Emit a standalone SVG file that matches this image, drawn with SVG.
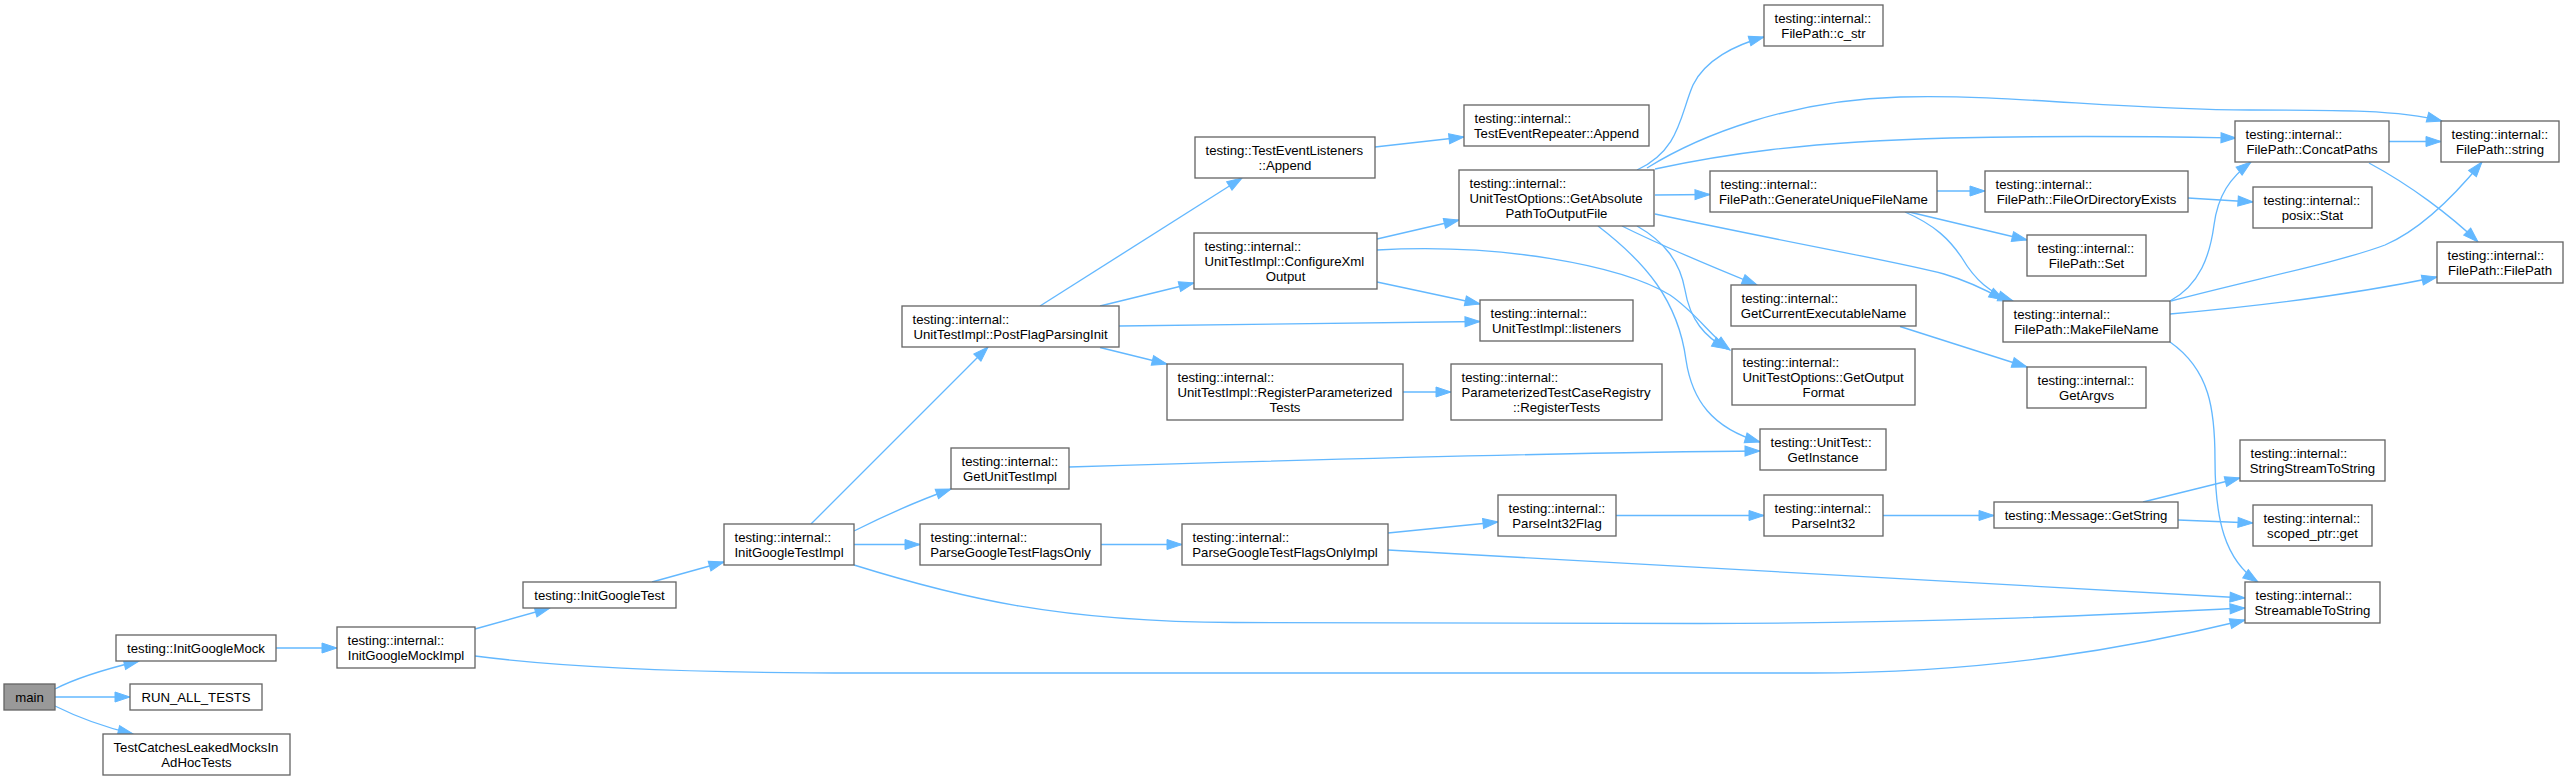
<svg xmlns="http://www.w3.org/2000/svg" width="2568" height="781" viewBox="0 0 2568 781">
<style>
.n rect{fill:#ffffff;stroke:#666666;stroke-width:1.33}
.n.root rect{fill:#999999}
text{font-family:"Liberation Sans",Arial,Helvetica,sans-serif;font-size:13.2px;fill:#000000}
.m{text-anchor:middle}
.e path{fill:none;stroke:#63b8ff;stroke-width:1.33;marker-end:url(#ah)}
</style>
<defs>
<marker id="ah" markerUnits="userSpaceOnUse" markerWidth="16" markerHeight="11" refX="15" refY="5" orient="auto" overflow="visible">
<path d="M0,0 L15,5 L0,10 z" fill="#63b8ff" stroke="#63b8ff" stroke-width="1"/>
</marker>
</defs>
<rect x="0" y="0" width="2568" height="781" fill="#ffffff"/>
<g id="edges" class="e">
<path d="M55,689 C 78,677 110,668 139,661"/>
<path d="M55,697 L130,697"/>
<path d="M55,706 C 75,716 100,726 133,734"/>
<path d="M276,648 L337,648"/>
<path d="M475,629 L550,608"/>
<path d="M475,656 C 560,667 680,673 860,673 L1811,673 C 1990,673 2130,648 2245,620"/>
<path d="M652,582 L724,562"/>
<path d="M811,524 L988,347"/>
<path d="M854,531 C 880,518 920,500 951,489"/>
<path d="M854,544.5 L920,544.5"/>
<path d="M854,565 C 960,598 1060,622 1234,622.5 L1700,623.5 C 1950,623 2100,615 2245,608"/>
<path d="M1040,306 L1242,178"/>
<path d="M1100,306 L1194,283"/>
<path d="M1119,326 L1480,321.5"/>
<path d="M1100,347.5 L1167,364"/>
<path d="M1375,147 L1464,137"/>
<path d="M1377,239 L1459,220"/>
<path d="M1377,250 C 1500,243 1620,265 1670,295 C 1695,312 1710,335 1730,350"/>
<path d="M1377,282 L1480,304"/>
<path d="M1403,392 L1451,392"/>
<path d="M1069,467 C 1300,460 1600,452 1760,451"/>
<path d="M1101,544.5 L1182,544.5"/>
<path d="M1388,533 L1498,522"/>
<path d="M1388,550 L2245,598"/>
<path d="M1616,515.5 L1764,515.5"/>
<path d="M1883,515.5 L1994,515.5"/>
<path d="M2143,502 L2240,478"/>
<path d="M2178,520 L2253,523"/>
<path d="M1637,170 C 1680,150 1680,115 1693,85 C 1705,60 1735,45 1764,37"/>
<path d="M1647,168 C 1700,135 1790,100 1900,97 C 2010,94 2120,110 2250,110 C 2340,110 2400,110 2442,121"/>
<path d="M1655,169 C 1720,155 1800,142 1950,138 C 2080,135 2180,137 2236,138"/>
<path d="M1655,195 L1710,194.5"/>
<path d="M1655,214 C 1800,245 1900,262 1944,274 C 1968,281 1988,291 2004,300"/>
<path d="M1622,226 C 1660,245 1720,270 1757,285"/>
<path d="M1637,226 C 1665,242 1680,262 1685,290 C 1690,320 1705,337 1727,349"/>
<path d="M1598,226 C 1645,262 1678,300 1686,360 C 1692,400 1712,428 1760,442"/>
<path d="M1937,191 L1985,191"/>
<path d="M1905,211 L2027,240"/>
<path d="M1905,212 C 1935,225 1950,240 1962,258 C 1975,280 1990,293 2013,301"/>
<path d="M2188,198 L2253,202"/>
<path d="M1900,326.5 L2027,367"/>
<path d="M2170,301 C 2200,285 2210,255 2214,225 C 2218,195 2230,178 2251,162"/>
<path d="M2171,301 C 2250,280 2340,262 2385,245 C 2420,230 2455,195 2482,162"/>
<path d="M2170,314 C 2250,307 2350,295 2437,277"/>
<path d="M2170,342 C 2210,370 2215,410 2215,460 C 2215,520 2225,560 2258,582"/>
<path d="M2389,141.5 L2441,141.5"/>
<path d="M2369,163 C 2410,185 2450,215 2478,242"/>
</g>
<g id="main" class="n root"><rect x="4" y="684" width="51" height="26"/><text class="m" x="29.5" y="701.5">main</text></g>
<g id="InitGoogleMock" class="n"><rect x="116" y="635" width="160" height="26"/><text class="m" x="196" y="652.5">testing::InitGoogleMock</text></g>
<g id="RUN_ALL_TESTS" class="n"><rect x="130" y="684" width="132" height="26"/><text class="m" x="196" y="701.5">RUN_ALL_TESTS</text></g>
<g id="TestCatches" class="n"><rect x="103" y="734" width="187" height="41"/><text x="113.5" y="751.5">TestCatchesLeakedMocksIn</text><text class="m" x="196.5" y="766.5">AdHocTests</text></g>
<g id="InitGoogleMockImpl" class="n"><rect x="337" y="627" width="138" height="41"/><text x="347.5" y="644.5">testing::internal::</text><text class="m" x="406" y="659.5">InitGoogleMockImpl</text></g>
<g id="InitGoogleTest" class="n"><rect x="523" y="582" width="153" height="26"/><text class="m" x="599.5" y="599.5">testing::InitGoogleTest</text></g>
<g id="InitGoogleTestImpl" class="n"><rect x="724" y="524" width="130" height="41"/><text x="734.5" y="541.5">testing::internal::</text><text class="m" x="789" y="556.5">InitGoogleTestImpl</text></g>
<g id="PostFlagParsingInit" class="n"><rect x="902" y="306" width="217" height="41"/><text x="912.5" y="323.5">testing::internal::</text><text class="m" x="1010.5" y="338.5">UnitTestImpl::PostFlagParsingInit</text></g>
<g id="GetUnitTestImpl" class="n"><rect x="951" y="448" width="118" height="41"/><text x="961.5" y="465.5">testing::internal::</text><text class="m" x="1010" y="480.5">GetUnitTestImpl</text></g>
<g id="ParseGoogleTestFlagsOnly" class="n"><rect x="920" y="524" width="181" height="41"/><text x="930.5" y="541.5">testing::internal::</text><text class="m" x="1010.5" y="556.5">ParseGoogleTestFlagsOnly</text></g>
<g id="TestEventListenersAppend" class="n"><rect x="1195" y="137" width="180" height="41"/><text x="1205.5" y="154.5">testing::TestEventListeners</text><text class="m" x="1285" y="169.5">::Append</text></g>
<g id="ConfigureXmlOutput" class="n"><rect x="1194" y="233" width="183" height="56"/><text x="1204.5" y="250.5">testing::internal::</text><text x="1204.5" y="265.5">UnitTestImpl::ConfigureXml</text><text class="m" x="1285.5" y="280.5">Output</text></g>
<g id="RegisterParameterizedTests" class="n"><rect x="1167" y="364" width="236" height="56"/><text x="1177.5" y="381.5">testing::internal::</text><text x="1177.5" y="396.5">UnitTestImpl::RegisterParameterized</text><text class="m" x="1285" y="411.5">Tests</text></g>
<g id="ParseGoogleTestFlagsOnlyImpl" class="n"><rect x="1182" y="524" width="206" height="41"/><text x="1192.5" y="541.5">testing::internal::</text><text class="m" x="1285" y="556.5">ParseGoogleTestFlagsOnlyImpl</text></g>
<g id="TestEventRepeaterAppend" class="n"><rect x="1464" y="105" width="185" height="41"/><text x="1474.5" y="122.5">testing::internal::</text><text class="m" x="1556.5" y="137.5">TestEventRepeater::Append</text></g>
<g id="GetAbsolutePathToOutputFile" class="n"><rect x="1459" y="170" width="195" height="56"/><text x="1469.5" y="187.5">testing::internal::</text><text x="1469.5" y="202.5">UnitTestOptions::GetAbsolute</text><text class="m" x="1556.5" y="217.5">PathToOutputFile</text></g>
<g id="listeners" class="n"><rect x="1480" y="300" width="153" height="41"/><text x="1490.5" y="317.5">testing::internal::</text><text class="m" x="1556.5" y="332.5">UnitTestImpl::listeners</text></g>
<g id="RegisterTests" class="n"><rect x="1451" y="364" width="211" height="56"/><text x="1461.5" y="381.5">testing::internal::</text><text x="1461.5" y="396.5">ParameterizedTestCaseRegistry</text><text class="m" x="1556.5" y="411.5">::RegisterTests</text></g>
<g id="ParseInt32Flag" class="n"><rect x="1498" y="495" width="118" height="41"/><text x="1508.5" y="512.5">testing::internal::</text><text class="m" x="1557" y="527.5">ParseInt32Flag</text></g>
<g id="c_str" class="n"><rect x="1764" y="5" width="119" height="41"/><text x="1774.5" y="22.5">testing::internal::</text><text class="m" x="1823.5" y="37.5">FilePath::c_str</text></g>
<g id="GenerateUniqueFileName" class="n"><rect x="1710" y="171" width="227" height="41"/><text x="1720.5" y="188.5">testing::internal::</text><text class="m" x="1823.5" y="203.5">FilePath::GenerateUniqueFileName</text></g>
<g id="GetCurrentExecutableName" class="n"><rect x="1731" y="285" width="185" height="41"/><text x="1741.5" y="302.5">testing::internal::</text><text class="m" x="1823.5" y="317.5">GetCurrentExecutableName</text></g>
<g id="GetOutputFormat" class="n"><rect x="1732" y="349" width="183" height="56"/><text x="1742.5" y="366.5">testing::internal::</text><text x="1742.5" y="381.5">UnitTestOptions::GetOutput</text><text class="m" x="1823.5" y="396.5">Format</text></g>
<g id="GetInstance" class="n"><rect x="1760" y="429" width="126" height="41"/><text x="1770.5" y="446.5">testing::UnitTest::</text><text class="m" x="1823" y="461.5">GetInstance</text></g>
<g id="ParseInt32" class="n"><rect x="1764" y="495" width="119" height="41"/><text x="1774.5" y="512.5">testing::internal::</text><text class="m" x="1823.5" y="527.5">ParseInt32</text></g>
<g id="FileOrDirectoryExists" class="n"><rect x="1985" y="171" width="203" height="41"/><text x="1995.5" y="188.5">testing::internal::</text><text class="m" x="2086.5" y="203.5">FilePath::FileOrDirectoryExists</text></g>
<g id="FilePathSet" class="n"><rect x="2027" y="235" width="119" height="41"/><text x="2037.5" y="252.5">testing::internal::</text><text class="m" x="2086.5" y="267.5">FilePath::Set</text></g>
<g id="MakeFileName" class="n"><rect x="2003" y="301" width="167" height="41"/><text x="2013.5" y="318.5">testing::internal::</text><text class="m" x="2086.5" y="333.5">FilePath::MakeFileName</text></g>
<g id="GetArgvs" class="n"><rect x="2027" y="367" width="119" height="41"/><text x="2037.5" y="384.5">testing::internal::</text><text class="m" x="2086.5" y="399.5">GetArgvs</text></g>
<g id="GetString" class="n"><rect x="1994" y="502" width="184" height="26"/><text class="m" x="2086" y="519.5">testing::Message::GetString</text></g>
<g id="ConcatPaths" class="n"><rect x="2235" y="121" width="154" height="41"/><text x="2245.5" y="138.5">testing::internal::</text><text class="m" x="2312" y="153.5">FilePath::ConcatPaths</text></g>
<g id="Stat" class="n"><rect x="2253" y="187" width="119" height="41"/><text x="2263.5" y="204.5">testing::internal::</text><text class="m" x="2312.5" y="219.5">posix::Stat</text></g>
<g id="StringStreamToString" class="n"><rect x="2240" y="440" width="145" height="41"/><text x="2250.5" y="457.5">testing::internal::</text><text class="m" x="2312.5" y="472.5">StringStreamToString</text></g>
<g id="scoped_ptr_get" class="n"><rect x="2253" y="505" width="119" height="41"/><text x="2263.5" y="522.5">testing::internal::</text><text class="m" x="2312.5" y="537.5">scoped_ptr::get</text></g>
<g id="StreamableToString" class="n"><rect x="2245" y="582" width="135" height="41"/><text x="2255.5" y="599.5">testing::internal::</text><text class="m" x="2312.5" y="614.5">StreamableToString</text></g>
<g id="FilePathString" class="n"><rect x="2441" y="121" width="118" height="41"/><text x="2451.5" y="138.5">testing::internal::</text><text class="m" x="2500" y="153.5">FilePath::string</text></g>
<g id="FilePathFilePath" class="n"><rect x="2437" y="242" width="126" height="41"/><text x="2447.5" y="259.5">testing::internal::</text><text class="m" x="2500" y="274.5">FilePath::FilePath</text></g>
</svg>
